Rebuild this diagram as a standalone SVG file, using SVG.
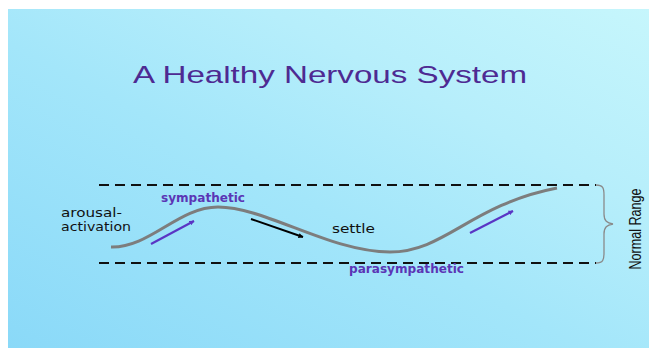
<svg xmlns="http://www.w3.org/2000/svg" width="649" height="348" viewBox="0 0 649 348">
<defs>
<linearGradient id="bg" x1="0" y1="1" x2="1" y2="0">
<stop offset="0" stop-color="#8ad9f8"/>
<stop offset="0.45" stop-color="#a3e6fa"/>
<stop offset="0.7" stop-color="#b6eefb"/>
<stop offset="1" stop-color="#c6f6fc"/>
</linearGradient>
<marker id="ap" viewBox="0 0 10 10" refX="9" refY="5" markerWidth="5" markerHeight="5" orient="auto" markerUnits="userSpaceOnUse">
<path d="M0,0 L10,5 L0,10 z" fill="#5a35c4"/>
</marker>
<marker id="ak" viewBox="0 0 10 10" refX="9" refY="5" markerWidth="5" markerHeight="5" orient="auto" markerUnits="userSpaceOnUse">
<path d="M0,0 L10,5 L0,10 z" fill="#000"/>
</marker>
</defs>
<style>
.lbl{font-family:"DejaVu Sans","Liberation Sans",sans-serif;font-size:12px;fill:#111}
.plbl{font-family:"DejaVu Sans","Liberation Sans",sans-serif;font-size:11.5px;font-weight:bold;fill:#5b35b5}
.dash{stroke:#111;stroke-width:2;stroke-dasharray:10 6;fill:none}
.parr{stroke:#5a35c4;stroke-width:2.2;fill:none}
</style>
<rect x="0" y="0" width="649" height="348" fill="#fff"/>
<rect x="8" y="9" width="641" height="339" fill="url(#bg)"/>
<g id="title">
<text x="133" y="83" font-family="Liberation Sans, Arial, sans-serif" font-size="24" fill="#4e2a92" textLength="394" lengthAdjust="spacingAndGlyphs">A Healthy Nervous System</text>
</g>
<g id="range-lines">
<line class="dash" x1="99" y1="185" x2="596" y2="185"/>
<line class="dash" x1="99" y1="263" x2="596" y2="263"/>
</g>
<g id="brace">
<path d="M596,185 C603,185 604,188 604,195 L604,214 C604,221 607,223 613,224 C607,225 604,227 604,234 L604,253 C604,260 603,263 596,263" fill="none" stroke="#8a8a8a" stroke-width="1.3"/>
</g>
<g id="normal-range">
<text transform="translate(641,229) rotate(-90)" text-anchor="middle" font-family="Liberation Sans, Arial, sans-serif" font-size="16" fill="#111" textLength="81" lengthAdjust="spacingAndGlyphs">Normal Range</text>
</g>
<g id="curve">
<path d="M111,247 C150,248 178,207 218,207 C265,207 330,252 390,252 C445,252 470,205 557,188" fill="none" stroke="#7d7d7d" stroke-width="3"/>
</g>
<g id="connectors">
<line class="parr" x1="151" y1="244" x2="194" y2="221" marker-end="url(#ap)"/>
<line x1="251" y1="219" x2="303" y2="237" stroke="#000" stroke-width="2" marker-end="url(#ak)"/>
<line class="parr" x1="470" y1="233" x2="513" y2="211" marker-end="url(#ap)"/>
</g>
<g id="labels">
<text class="lbl" x="61" y="217" textLength="61" lengthAdjust="spacingAndGlyphs">arousal-</text>
<text class="lbl" x="61" y="231" textLength="70" lengthAdjust="spacingAndGlyphs">activation</text>
<text class="plbl" x="161" y="202" textLength="84" lengthAdjust="spacingAndGlyphs">sympathetic</text>
<text class="lbl" x="332" y="233" textLength="43" lengthAdjust="spacingAndGlyphs">settle</text>
<text class="plbl" x="349" y="273" textLength="115" lengthAdjust="spacingAndGlyphs">parasympathetic</text>
</g>
</svg>
